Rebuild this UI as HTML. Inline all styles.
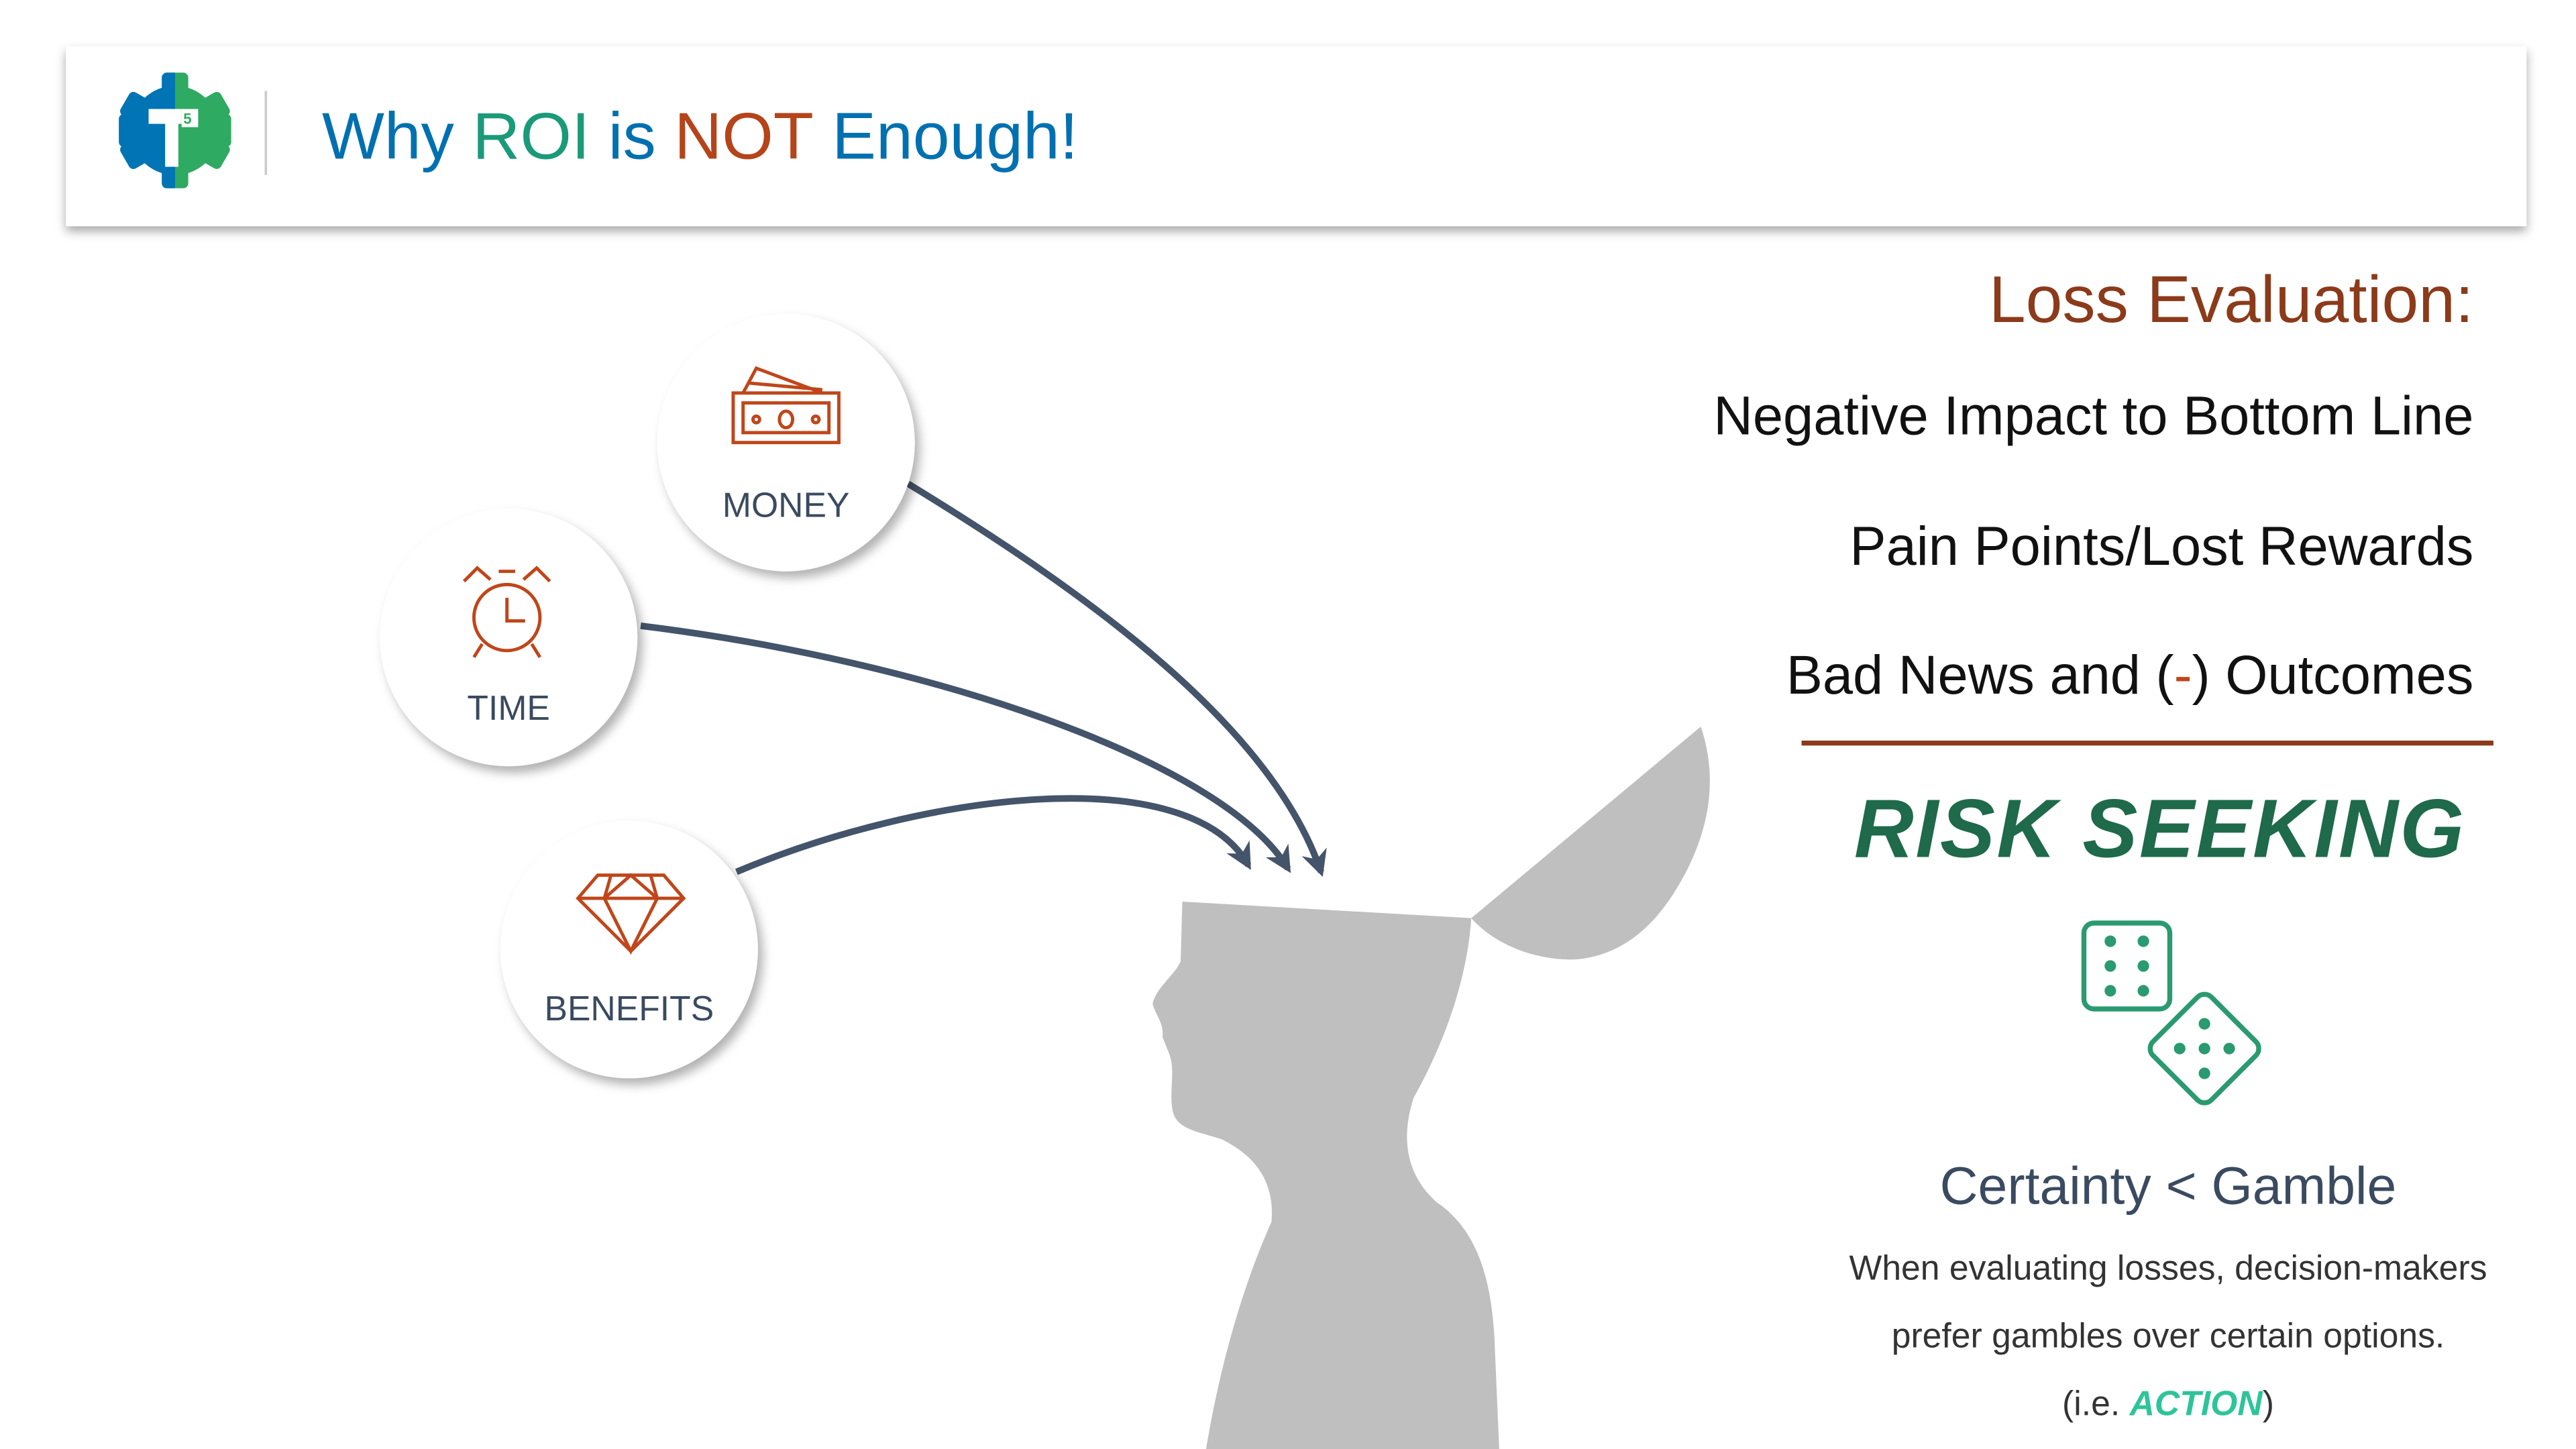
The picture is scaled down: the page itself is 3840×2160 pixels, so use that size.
<!DOCTYPE html>
<html><head><meta charset="utf-8"><style>
html,body{margin:0;padding:0;background:#fff;width:3840px;height:2160px;overflow:hidden}
svg{display:block}
text{font-family:"Liberation Sans",sans-serif}
</style></head><body>
<svg width="3840" height="2160" viewBox="0 0 1560 877.5" xmlns="http://www.w3.org/2000/svg">
<defs>
<filter id="sh" x="-20%" y="-20%" width="150%" height="160%"><feDropShadow dx="0" dy="3" stdDeviation="3" flood-color="#000" flood-opacity="0.35"/></filter>
<filter id="cs" x="-30%" y="-30%" width="170%" height="170%"><feDropShadow dx="3" dy="4" stdDeviation="3" flood-color="#000" flood-opacity="0.3"/></filter>
<marker id="ah" viewBox="0 0 10 10" refX="8" refY="5" markerWidth="4" markerHeight="4" orient="auto"><path d="M0,0 L10,5 L0,10 L3,5 z" fill="#44546a"/></marker>
<clipPath id="lh"><rect x="60" y="40" width="46" height="80"/></clipPath>
<g id="gear">
<circle cx="106" cy="79" r="27"/>
<rect x="98" y="44" width="16" height="70" rx="3"/>
<rect x="72" y="69" width="68" height="20" rx="3"/>
<rect x="98" y="44" width="16" height="70" rx="3" transform="rotate(60 106 79)"/>
<rect x="98" y="44" width="16" height="70" rx="3" transform="rotate(-60 106 79)"/>
</g>
</defs>
<rect width="1560" height="877.5" fill="#fff"/>
<!-- header -->
<rect x="40" y="28" width="1490" height="109" fill="#fff" filter="url(#sh)"/>
<use href="#gear" fill="#2eaa62"/>
<use href="#gear" fill="#0074b5" clip-path="url(#lh)"/>
<rect x="90" y="66" width="20" height="9" fill="#fff"/><rect x="100" y="66" width="8" height="35" fill="#fff"/>
<rect x="110" y="66" width="10" height="11" fill="#fff"/>
<text x="111" y="75" font-size="9" font-weight="bold" fill="#2eaa62">5</text>
<line x1="161" y1="55" x2="161" y2="106" stroke="#ccc" stroke-width="1.5"/>
<text x="195" y="96" font-size="40"><tspan fill="#0070b0">Why </tspan><tspan fill="#1a9a78">ROI</tspan><tspan fill="#0070b0"> is </tspan><tspan fill="#b5441a">NOT</tspan><tspan fill="#0070b0"> Enough!</tspan></text>
<!-- right text -->
<text x="1498" y="195" font-size="40" fill="#8b3a1a" text-anchor="end">Loss Evaluation:</text>
<text x="1498" y="263" font-size="33" fill="#111" text-anchor="end">Negative Impact to Bottom Line</text>
<text x="1498" y="342" font-size="33" fill="#111" text-anchor="end">Pain Points/Lost Rewards</text>
<text x="1498" y="420" font-size="33" fill="#111" text-anchor="end">Bad News and (<tspan fill="#c0461a">-</tspan>) Outcomes</text>
<line x1="1091" y1="450" x2="1510" y2="450" stroke="#8b3a1a" stroke-width="3"/>
<text x="1308" y="519" font-size="50" font-weight="bold" font-style="italic" fill="#1e6a4a" text-anchor="middle" letter-spacing="1">RISK SEEKING</text>
<!-- dice -->
<g fill="none" stroke="#2a9a70" stroke-width="3">
<rect x="1262" y="559" width="52" height="52" rx="6" fill="#fff"/>
<rect x="1310" y="610" width="50" height="50" rx="6" transform="rotate(45 1335 635)" fill="#fff"/>
</g>
<g fill="#2a9a70">
<circle cx="1278" cy="570" r="3.5"/><circle cx="1298" cy="570" r="3.5"/><circle cx="1278" cy="585" r="3.5"/><circle cx="1298" cy="585" r="3.5"/><circle cx="1278" cy="600" r="3.5"/><circle cx="1298" cy="600" r="3.5"/>
<circle cx="1335" cy="620" r="3.5"/><circle cx="1320" cy="635" r="3.5"/><circle cx="1350" cy="635" r="3.5"/><circle cx="1335" cy="650" r="3.5"/><circle cx="1335" cy="635" r="3.5"/>
</g>
<text x="1313" y="729" font-size="32" fill="#3a4a60" text-anchor="middle">Certainty &lt; Gamble</text>
<text x="1313" y="775" font-size="21" fill="#333" text-anchor="middle">When evaluating losses, decision-makers</text>
<text x="1313" y="816" font-size="21" fill="#333" text-anchor="middle">prefer gambles over certain options.</text>
<text x="1313" y="857" font-size="21" fill="#333" text-anchor="middle">(i.e. <tspan fill="#2ec49a" font-weight="bold" font-style="italic">ACTION</tspan>)</text>
<!-- head -->
<path d="M716,546 L891,556 C888,600 870,640 856,665 C848,690 852,712 870,728 C895,745 903,775 905,810 L908,880 L730,880 C738,830 752,780 770,740 C772,715 760,700 740,690 C725,685 712,684 710,672 C708,660 712,648 708,638 L704,628 C705,620 700,615 698,608 C700,598 712,590 715,582 Z" fill="#bfbfbf"/>
<path d="M891,556 L1030,440 C1040,470 1036,500 1020,530 C1005,558 985,578 955,581 C930,582 905,572 891,556 Z" fill="#bfbfbf"/>
<!-- arrows -->
<g fill="none" stroke="#44546a" stroke-width="4">
<path d="M550,293 C660,360 770,440 800,528" marker-end="url(#ah)"/>
<path d="M388,379 C560,400 740,460 780,526" marker-end="url(#ah)"/>
<path d="M446,528 C560,480 720,460 756,524" marker-end="url(#ah)"/>
</g>
<!-- circles -->
<g fill="#fff" filter="url(#cs)">
<circle cx="476" cy="268" r="78"/><circle cx="308" cy="386" r="78"/><circle cx="381" cy="575" r="78"/>
</g>
<g fill="none" stroke="#c0461a" stroke-width="2">
<rect x="444" y="238" width="64" height="30"/><rect x="450" y="244" width="52" height="18"/>
<ellipse cx="476" cy="254" rx="4" ry="5"/><circle cx="458" cy="254" r="2"/><circle cx="494" cy="254" r="2"/>
<path d="M450,238 L458,223 L498,238 M454,232 L498,236"/>
<circle cx="307" cy="374" r="20"/><path d="M307,362 V376 H318"/>
<path d="M281,352 l8,-8 l8,7 M333,352 l-8,-8 l-8,7 M302,346 h10 M292,390 l-5,8 M322,390 l5,8"/>
<path d="M350,544 L362,530 H402 L414,544 L382,576 Z M350,544 H414 M370,530 L366,544 L382,576 L398,544 L394,530 M366,544 L382,530 L398,544"/>
</g>
<text x="476" y="313" font-size="21" fill="#3a4a60" text-anchor="middle">MONEY</text>
<text x="308" y="436" font-size="21" fill="#3a4a60" text-anchor="middle">TIME</text>
<text x="381" y="618" font-size="21" fill="#3a4a60" text-anchor="middle">BENEFITS</text>
</svg>
</body></html>
